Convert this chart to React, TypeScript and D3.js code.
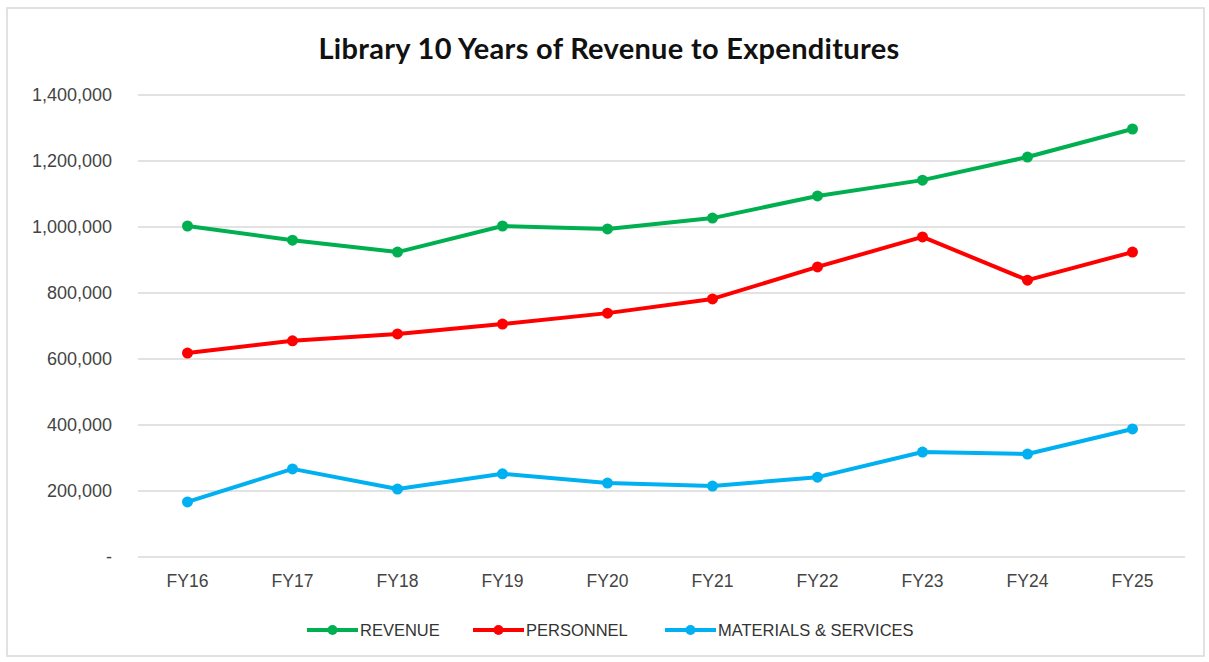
import * as d3 from "d3";

const years = ["FY16", "FY17", "FY18", "FY19", "FY20", "FY21", "FY22", "FY23", "FY24", "FY25"];
const revenue = [1003000, 960000, 924000, 1003000, 994000, 1027000, 1094000, 1142000, 1212000, 1297000];
const personnel = [618000, 655000, 676000, 706000, 739000, 782000, 879000, 970000, 839000, 924000];
const materials = [167000, 267000, 206000, 252000, 224000, 215000, 242000, 318000, 312000, 388000];
const yTicks = [0, 200000, 400000, 600000, 800000, 1000000, 1200000, 1400000];

const series = [
  { name: "REVENUE", values: revenue, color: "#00B050" },
  { name: "PERSONNEL", values: personnel, color: "#FF0000" },
  { name: "MATERIALS & SERVICES", values: materials, color: "#00B0F0" },
];

const W = 1209;
const H = 662;
const left = 135;
const right = 1185;
const top = 95;
const bottom = 557;

export default function App() {
  const x = d3.scaleBand().domain(years).range([left, right]);
  const y = d3.scaleLinear().domain([0, 1400000]).range([bottom, top]);
  const fmt = d3.format(",");
  const line = d3
    .line<number>()
    .x((_, i) => (x(years[i]) as number) + x.bandwidth() / 2)
    .y((d) => y(d));

  const legendX = [307, 473, 665];

  return (
    <svg
      width={W}
      height={H}
      style={{ position: "absolute", left: 0, top: 0, background: "white" }}
      fontFamily="'Liberation Sans', Arial, sans-serif"
    >
      <rect x="7" y="8" width="1197" height="648" fill="white" stroke="#d9d9d9" strokeWidth="1.5" />
      <text x="609" y="59" fontSize="29" fontWeight="bold" textAnchor="middle" fontFamily="Lato, sans-serif" fill="#111" letterSpacing="0.3">
        Library 10 Years of Revenue to Expenditures
      </text>

      {yTicks.map((t) => (
        <g key={t}>
          <line x1={138} x2={right} y1={y(t)} y2={y(t)} stroke="#d9d9d9" strokeWidth="1.5" />
          <text x="112" y={y(t)} dy="0.35em" fontSize="18" textAnchor="end" fill="#444">
            {t === 0 ? "-" : fmt(t)}
          </text>
        </g>
      ))}

      {years.map((d) => (
        <text
          key={d}
          x={(x(d) as number) + x.bandwidth() / 2}
          y="581"
          dy="0.35em"
          fontSize="17.5"
          textAnchor="middle"
          fill="#444"
        >
          {d}
        </text>
      ))}

      {series.map((s) => (
        <g key={s.name}>
          <path d={line(s.values) || ""} fill="none" stroke={s.color} strokeWidth="4" strokeLinejoin="round" />
          {s.values.map((v, i) => (
            <circle
              key={i}
              cx={(x(years[i]) as number) + x.bandwidth() / 2}
              cy={y(v)}
              r="5.5"
              fill={s.color}
            />
          ))}
        </g>
      ))}

      {series.map((s, i) => (
        <g key={s.name} transform={`translate(${legendX[i]},630)`}>
          <line x1="0" x2="51" y1="0" y2="0" stroke={s.color} strokeWidth="4" />
          <circle cx="25.5" cy="0" r="5" fill={s.color} />
          <text x="53" y="0" dy="0.35em" fontSize="16.5" fill="#333">
            {s.name}
          </text>
        </g>
      ))}
    </svg>
  );
}
